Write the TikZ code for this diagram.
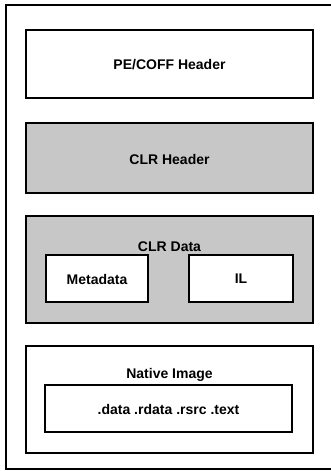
\documentclass[tikz,border=0pt]{standalone}
\usepackage{fontspec}
\setmainfont{Liberation Sans}
\begin{document}
\begin{tikzpicture}[x=1pt,y=-1pt,
  box/.style={draw=black,line width=1.8pt,inner sep=0pt},
  shaded/.style={box,fill=black!22},
  lbl/.style={font=\bfseries\fontsize{14}{16}\selectfont,inner sep=0pt}]
\useasboundingbox (0,0) rectangle (330,471);
\draw[line width=1.3pt] (334,5) -- (6,5) -- (6,469) -- (334,469);
% PE/COFF
\draw[box] (26,30) rectangle (313,98);
\node[lbl] (pe) at (169.5,65) {PE/COFF Header};
% CLR header
\draw[shaded] (26,123) rectangle (313,193);
\node[lbl] (clrh) at (169.5,159) {CLR Header};
% CLR data
\draw[shaded] (26,216) rectangle (313,323);
\node[lbl] (clrd) at (169.5,247) {CLR Data};
\draw[box,fill=white] (46,255) rectangle (148,302);
\node[lbl] (meta) at (97,279) {Metadata};
\draw[box,fill=white] (189,255) rectangle (293,302);
\node[lbl] (il) at (241,279) {IL};
% Native image
\draw[box] (26,346) rectangle (313,453);
\node[lbl] (ni) at (169.5,375) {Native Image};
\draw[box] (45,385) rectangle (292,432);
\node[lbl] (sec) at (168.5,409) {.data .rdata .rsrc .text};
\end{tikzpicture}
\end{document}
